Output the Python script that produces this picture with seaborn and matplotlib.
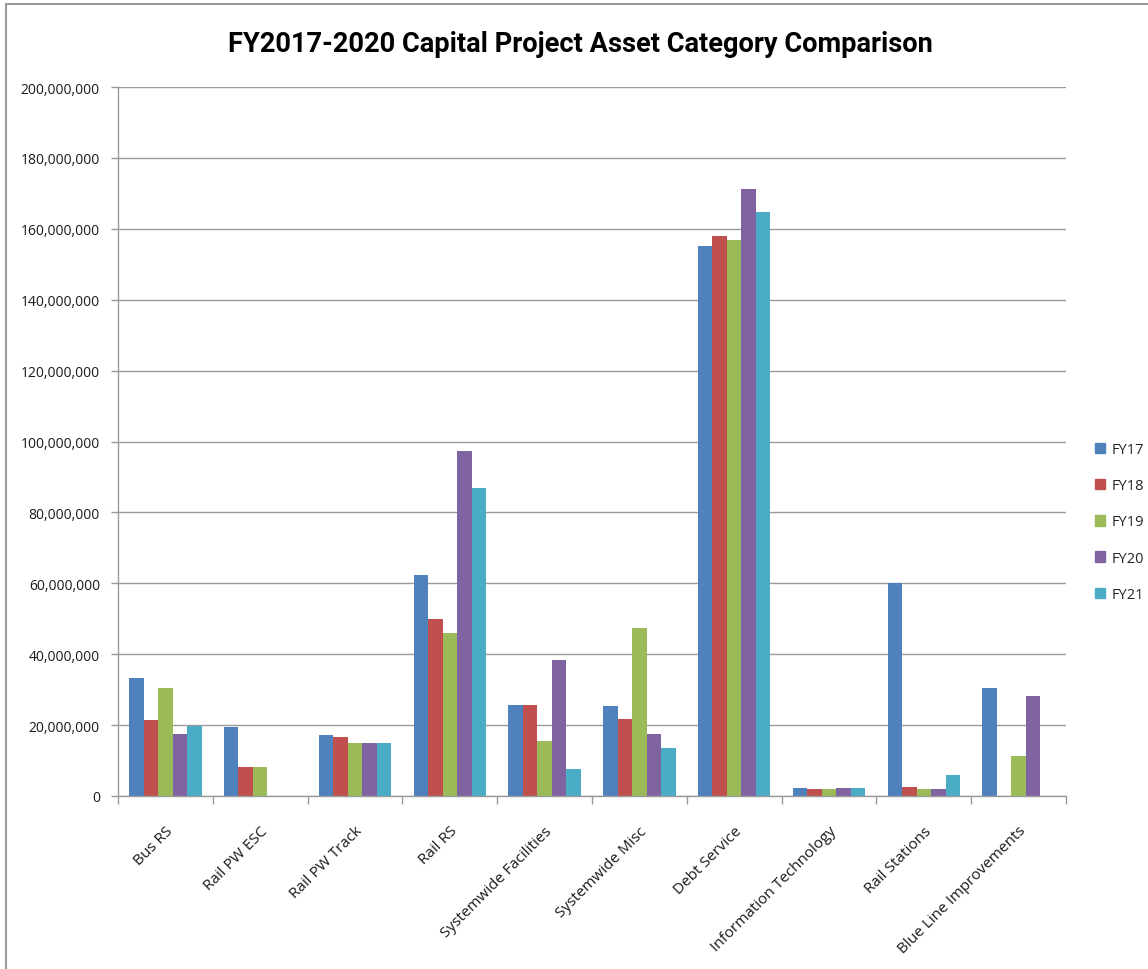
import numpy as np
import pandas as pd
import seaborn as sns
import matplotlib.pyplot as plt
from matplotlib.lines import Line2D
from matplotlib.ticker import FuncFormatter, MultipleLocator

# --- Data (values in millions of dollars) ---
categories = [
    "Bus RS", "Rail PW ESC", "Rail PW Track", "Rail RS", "Systemwide Facilities",
    "Systemwide Misc", "Debt Service", "Information Technology", "Rail Stations",
    "Blue Line Improvements",
]
years = ["FY17", "FY18", "FY19", "FY20", "FY21"]

fy17 = [33.4, 19.6, 17.1, 62.3, 25.7, 25.3, 155.1, 2.3, 60.1, 30.4]
fy18 = [21.4, 8.3, 16.6, 49.8, 25.7, 21.7, 158.0, 2.0, 2.6, np.nan]
fy19 = [30.5, 8.3, 15.0, 46.0, 15.5, 47.3, 156.8, 2.0, 2.0, 11.3]
fy20 = [17.4, np.nan, 15.0, 97.3, 38.4, 17.4, 171.2, 2.3, 2.0, 28.3]
fy21 = [19.7, np.nan, 15.0, 86.9, 7.7, 13.5, 164.7, 2.3, 5.9, np.nan]

colors = ["#4F81BD", "#C0504D", "#9BBB59", "#8064A2", "#4BACC6"]


def build_frame():
    rows = []
    for year, vals in zip(years, [fy17, fy18, fy19, fy20, fy21]):
        for cat, v in zip(categories, vals):
            rows.append({"Category": cat, "Year": year, "Value": v * 1e6})
    return pd.DataFrame(rows)


def main():
    df = build_frame()

    sns.set_style("white")
    plt.rcParams["font.family"] = ["Open Sans", "DejaVu Sans"]

    fig = plt.figure(figsize=(11.48, 9.70), dpi=100)
    ax = fig.add_axes([118 / 1148, 1 - 797 / 970, (1066 - 118) / 1148, (797 - 88) / 970])

    sns.barplot(
        data=df, x="Category", y="Value", hue="Year",
        order=categories, hue_order=years, palette=colors,
        width=0.765, errorbar=None, linewidth=0, saturation=1, ax=ax,
    )

    ax.set_ylim(0, 200e6)
    ax.set_xlim(-0.5, len(categories) - 0.5)
    ax.yaxis.set_major_locator(MultipleLocator(20e6))
    ax.yaxis.set_major_formatter(FuncFormatter(lambda v, p: f"{int(v):,}"))
    ax.grid(axis="y", color="#9a9a9a", linewidth=1.0)
    ax.set_axisbelow(True)

    for side in ["top", "right"]:
        ax.spines[side].set_visible(False)
    for side in ["left", "bottom"]:
        ax.spines[side].set_color("#9a9a9a")
        ax.spines[side].set_linewidth(1.0)

    # y ticks: small outward marks; x ticks: marks between categories
    ax.tick_params(axis="y", which="major", left=True, length=5, width=1,
                   color="#9a9a9a", labelsize=10, labelcolor="#1a1a1a", pad=8)
    ax.set_xticks(np.arange(len(categories)))
    ax.set_xticklabels(categories, rotation=45, ha="right", rotation_mode="anchor",
                       fontsize=11, color="#1a1a1a")
    ax.tick_params(axis="x", which="major", bottom=False, pad=16)
    ax.set_xticks(np.arange(len(categories) + 1) - 0.5, minor=True)
    ax.tick_params(axis="x", which="minor", bottom=True, length=6, width=1,
                   color="#9a9a9a")
    ax.set_xlabel("")
    ax.set_ylabel("")

    fig.text(0.506, 1 - 45 / 970, "FY2017-2020 Capital Project Asset Category Comparison",
             ha="center", va="center", fontsize=19.6, fontweight="bold", color="black",
             family=["Roboto", "DejaVu Sans"])

    handles = [plt.Rectangle((0, 0), 1, 1, color=c) for c in colors]
    fig.legend(handles, years, loc="center left",
               bbox_to_anchor=(1082 / 1148, 1 - 523 / 970),
               frameon=False, fontsize=10.5, handlelength=0.7, handleheight=0.7,
               handletextpad=0.4, labelspacing=1.45)
    if ax.get_legend() is not None:
        ax.get_legend().remove()

    # screenshot-style frame at left and top
    fig.add_artist(Line2D([6 / 1148, 6 / 1148], [0, 1 - 5 / 970],
                          transform=fig.transFigure, color="#9a9a9a", linewidth=1.5))
    fig.add_artist(Line2D([6 / 1148, 1], [1 - 5 / 970, 1 - 5 / 970],
                          transform=fig.transFigure, color="#9a9a9a", linewidth=1.5))

    fig.savefig("out.png", dpi=fig.dpi)
    plt.close(fig)


if __name__ == "__main__":
    main()
